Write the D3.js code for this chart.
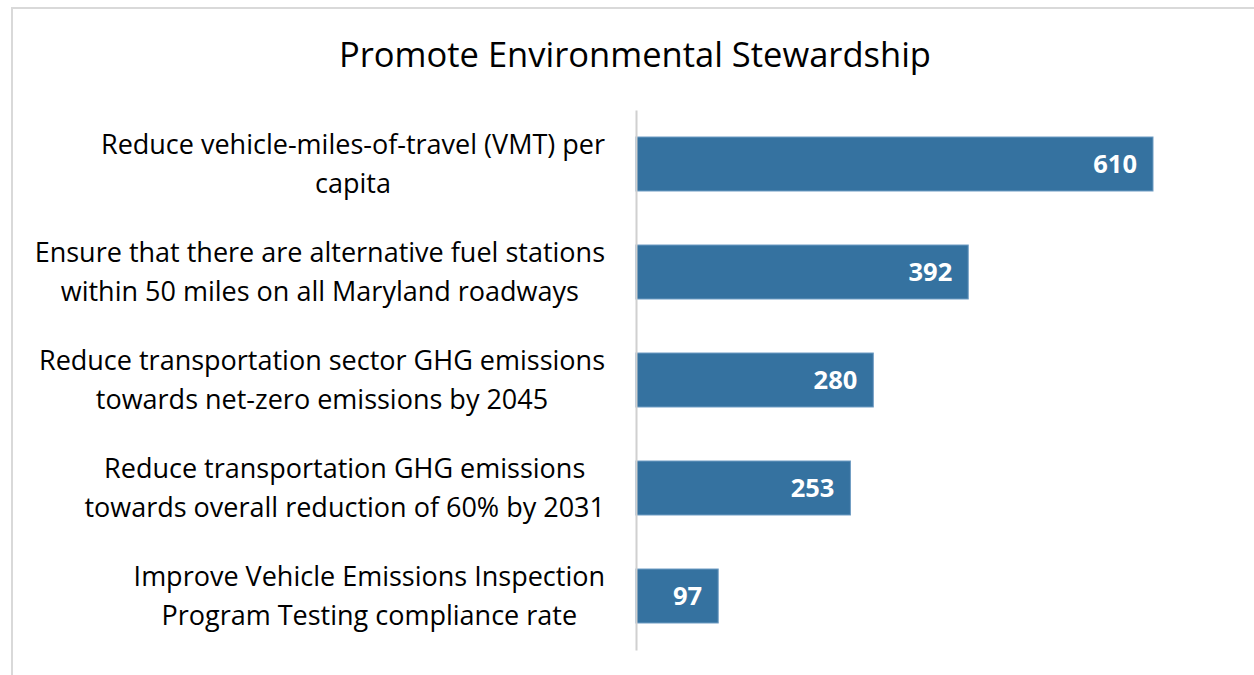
<!DOCTYPE html>
<html>
<head>
<meta charset="utf-8">
<script src="https://cdn.jsdelivr.net/npm/d3@7"></script>
<style>
  body { margin: 0; background: #fff; }
  svg { display: block; font-family: "Open Sans", "Noto Sans", sans-serif; }
</style>
</head>
<body>
<div id="chart"></div>
<script>
var title = "Promote Environmental Stewardship";
var categories = [
  ["Reduce vehicle-miles-of-travel (VMT) per", "capita"],
  ["Ensure that there are alternative fuel stations", "within 50 miles on all Maryland roadways"],
  ["Reduce transportation sector GHG emissions", "towards net-zero emissions by 2045"],
  ["Reduce transportation GHG emissions", "towards overall reduction of 60% by 2031"],
  ["Improve Vehicle Emissions Inspection", "Program Testing compliance rate"]
];
var values = [610, 392, 280, 253, 97];

var width = 1254, height = 675;
var barColor = "#3572a0";

var svg = d3.select("#chart").append("svg")
    .attr("width", width)
    .attr("height", height);

// outer frame
svg.append("rect")
    .attr("x", 12).attr("y", 8)
    .attr("width", width + 10).attr("height", height + 10)
    .attr("fill", "#fff")
    .attr("stroke", "#d9d9d9")
    .attr("stroke-width", 2);

svg.append("text")
    .attr("x", 635)
    .attr("y", 67)
    .attr("text-anchor", "middle")
    .attr("font-size", 34.5)
    .attr("fill", "#000")
    .text(title);

var x0 = 636;
var x = d3.scaleLinear()
    .domain([0, 610])
    .range([x0, 1153]);

var idx = d3.range(values.length);
var y = d3.scaleBand()
    .domain(idx)
    .range([110, 650])
    .paddingInner(0.5)
    .paddingOuter(0.25);

var bar = svg.selectAll("g.bar")
    .data(idx)
    .enter().append("g")
    .attr("class", "bar");

bar.append("rect")
    .attr("x", x(0))
    .attr("y", function(i) { return y(i); })
    .attr("width", function(i) { return x(values[i]) - x(0); })
    .attr("height", y.bandwidth())
    .attr("fill", barColor)
    .attr("stroke", "#6f9cc3")
    .attr("stroke-width", 1);

bar.append("text")
    .attr("x", function(i) { return x(values[i]) - 16; })
    .attr("y", function(i) { return y(i) + y.bandwidth() / 2; })
    .attr("dy", ".36em")
    .attr("text-anchor", "end")
    .attr("font-size", 25.5)
    .attr("font-weight", "bold")
    .attr("fill", "#fff")
    .text(function(i) { return values[i]; });

// category labels, two lines, centred block right-aligned near axis
bar.append("text")
    .attr("text-anchor", "middle")
    .attr("font-size", 27)
    .attr("fill", "#000")
    .each(function(i) {
        var t = d3.select(this);
        var cy = y(i) + y.bandwidth() / 2;
        var lines = categories[i];
        lines.forEach(function(l, k) {
            t.append("tspan")
                .attr("x", 0)
                .attr("y", cy + (k - (lines.length - 1) / 2) * 39 + 9)
                .text(l);
        });
        // centre the block so that its widest line ends at 605
        var w = this.getBBox().width;
        t.attr("transform", "translate(" + (605 - w / 2) + ",0)");
    });

// axis line
svg.append("g")
    .attr("transform", "translate(" + x0 + ",0)")
    .call(d3.axisLeft(y).tickSize(0).tickFormat(""))
    .call(function(g) {
        g.select(".domain").attr("stroke", "#d0d0d0").attr("stroke-width", 2);
    });
</script>
</body>
</html>
